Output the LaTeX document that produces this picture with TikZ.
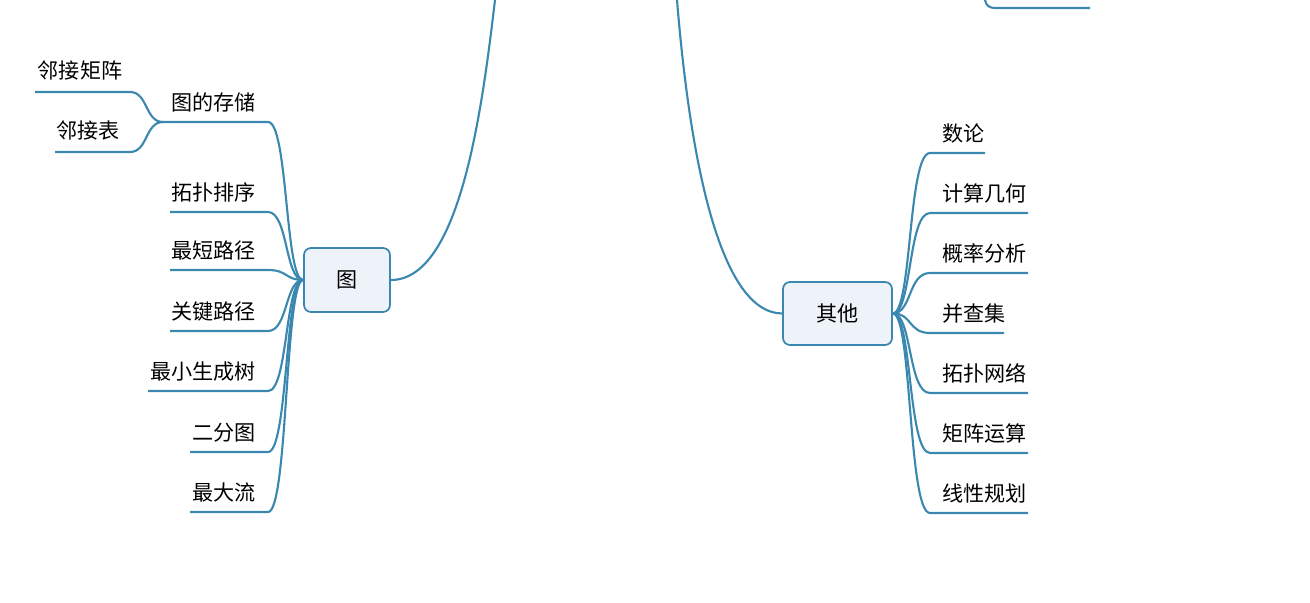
\documentclass[tikz,border=0pt]{standalone}
\usepackage{fontspec}
\setmainfont{Noto Sans CJK SC}
\tikzset{
  link/.style={draw=linkblue, line width=1.2pt},
  topic/.style={draw=linkblue, fill=boxfill, rounded corners=4pt, line width=1pt, font=\large},
  leaf/.style={font=\large, inner sep=1pt}
}
\definecolor{linkblue}{HTML}{3A87B0}
\definecolor{boxfill}{HTML}{EEF3F9}
\begin{document}
\begin{tikzpicture}[x=0.02cm, y=-0.02cm]
\useasboundingbox (0,0) rectangle (1310,602);
% main topics
\node[topic, minimum width=86*0.02cm, minimum height=64*0.02cm] (tu) at (347,280) {图};
\node[topic, minimum width=109*0.02cm, minimum height=63*0.02cm] (qita) at (837.5,313.5) {其他};
% links from the centre (outside the view)
\coordinate (topl) at (495,0);
\coordinate (topr) at (677,0);
\draw[link] (tu.east) .. controls (460,280) and (482,110) .. (topl);
\draw[link] (qita.west) .. controls (720,313) and (690,160) .. (topr);
% cut-off leaf at top right
\coordinate (cutA) at (985,0);
\coordinate (cutB) at (1090,8);
\draw[link] (cutA) .. controls (986,6) and (990,8) .. (995,8) -- (cutB);
% left leaves of 图
\foreach \name/\txt/\y/\xl in {tuopu/拓扑排序/212/170, zuiduan/最短路径/270/170,
    guanjian/关键路径/331/170, shengcheng/最小生成树/391/148,
    erfen/二分图/452/190, zuida/最大流/512/190, cunchu/图的存储/122/163} {
  \coordinate (\name-r) at (268,\y);
  \coordinate (\name-l) at (\xl,\y);
  \node[leaf, anchor=south east] (\name) at (258,\y-8) {\txt};
  \draw[link] (tu.west) .. controls (285,280) and (288,\y) .. (\name-r) -- (\name-l);
}
% children of 图的存储
\coordinate (juzhen-r) at (130,92);
\coordinate (juzhen-l) at (35,92);
\node[leaf, anchor=south] (juzhen) at (80,82) {邻接矩阵};
\coordinate (biao-r) at (130,152);
\coordinate (biao-l) at (55,152);
\node[leaf, anchor=south] (biao) at (88,142) {邻接表};
\draw[link] (cunchu-l) .. controls (145,122) and (148,92) .. (juzhen-r) -- (juzhen-l);
\draw[link] (cunchu-l) .. controls (145,122) and (148,152) .. (biao-r) -- (biao-l);
% right leaves of 其他
\foreach \name/\txt/\y/\xr in {shulun/数论/153/985, jihe/计算几何/213/1028,
    gailv/概率分析/273/1028, bingcha/并查集/333/1004, wangluo/拓扑网络/393/1028,
    juzhenys/矩阵运算/453/1028, xianxing/线性规划/513/1028} {
  \coordinate (\name-l) at (930,\y);
  \coordinate (\name-r) at (\xr,\y);
  \node[leaf, anchor=south west] (\name) at (940,\y-8) {\txt};
  \draw[link] (qita.east) .. controls (912,313) and (908,\y) .. (\name-l) -- (\name-r);
}
\end{tikzpicture}
\end{document}
